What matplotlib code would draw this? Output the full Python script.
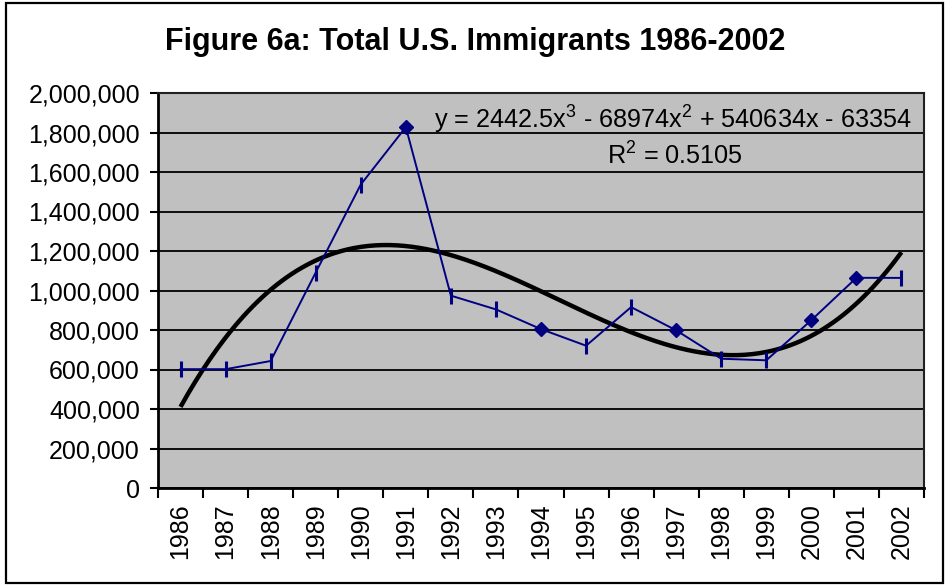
import numpy as np
import matplotlib
matplotlib.use("Agg")
import matplotlib.pyplot as plt
from matplotlib.patches import Rectangle
from matplotlib.ticker import FuncFormatter, FixedLocator

plt.rcParams['font.family'] = ['Liberation Sans', 'DejaVu Sans']
plt.rcParams['mathtext.default'] = 'regular'

# ---- data ----
years = ['1986', '1987', '1988', '1989', '1990', '1991', '1992', '1993', '1994',
         '1995', '1996', '1997', '1998', '1999', '2000', '2001', '2002']
immigrants = [601708, 601516, 643025, 1090924, 1536483, 1827167, 973977, 904292,
              804416, 720461, 915900, 798378, 654451, 646568, 849807, 1064318, 1063732]
diamond_years = ['1991', '1994', '1997', '2000', '2001']
trend_coeffs = [2442.5, -68974, 540634, -63354]   # cubic trendline, x = 1..n
r_squared = 0.5105
title = 'Figure 6a: Total U.S. Immigrants 1986-2002'
y_ticks = [0, 200000, 400000, 600000, 800000, 1000000, 1200000, 1400000,
           1600000, 1800000, 2000000]

W, H = 947, 585
fig = plt.figure(figsize=(W / 100, H / 100), dpi=100)

# outer chart frame
fig.patches.append(Rectangle((6 / W, 2 / H), 937 / W, 580 / H, transform=fig.transFigure,
                             fill=False, edgecolor='black', linewidth=1.6))

left, right, top, bottom = 158, 924, 93, 488
ax = fig.add_axes([left / W, 1 - bottom / H, (right - left) / W, (bottom - top) / H])
ax.set_facecolor('#C0C0C0')

x = np.arange(1, len(years) + 1)

# blue data line
ax.plot(x, immigrants, color='#000080', linewidth=1.4, zorder=3)
for xi, yr, val in zip(x, years, immigrants):
    if yr in diamond_years:
        ax.plot(xi, val, marker='D', markersize=7.5, color='#000080', zorder=4)
    else:
        ax.plot(xi, val, marker='|', markersize=12, markeredgewidth=2.2,
                color='#000080', zorder=4)

# trendline
xt = np.linspace(1, len(years), 300)
ax.plot(xt, np.polyval(trend_coeffs, xt), color='black', linewidth=3.2,
        solid_capstyle='butt', zorder=2)

ax.set_xlim(0.5, len(years) + 0.5)
ax.set_ylim(0, 2000000)
ax.set_yticks(y_ticks)
ax.yaxis.set_major_formatter(FuncFormatter(lambda v, p: f'{int(v):,}'))
ax.grid(axis='y', color='black', linewidth=1.3, zorder=1)
ax.set_axisbelow(True)

ax.xaxis.set_major_locator(FixedLocator(np.arange(0.5, len(years) + 1, 1)))
ax.xaxis.set_minor_locator(FixedLocator(x))
ax.set_xticklabels([], minor=False)
ax.set_xticks(x, minor=True)
ax.set_xticklabels(years, minor=True, rotation=90, fontsize=18)
ax.tick_params(axis='x', which='major', length=7, width=1.5, direction='out')
ax.tick_params(axis='x', which='minor', length=0, pad=11)
ax.tick_params(axis='y', length=6, width=1.5, direction='out', labelsize=18, pad=7)

for s in ['left', 'bottom']:
    ax.spines[s].set_linewidth(2)
for s in ['top', 'right']:
    ax.spines[s].set_linewidth(1.5)
    ax.spines[s].set_color('#202020')

fig.text(475 / W, 1 - 42 / H, title, ha='center', va='center', fontsize=22,
         fontweight='bold')

ax.text(673 / W, 1 - 120 / H,
        'y = 2442.5x$^{3}$ - 68974x$^{2}$ + 540634x - 63354',
        transform=fig.transFigure, ha='center', va='center', fontsize=18.2)
ax.text(675 / W, 1 - 156 / H, f'R$^{{2}}$ = {r_squared}', transform=fig.transFigure,
        ha='center', va='center', fontsize=18.2)

fig.savefig('out.png', dpi=100)
